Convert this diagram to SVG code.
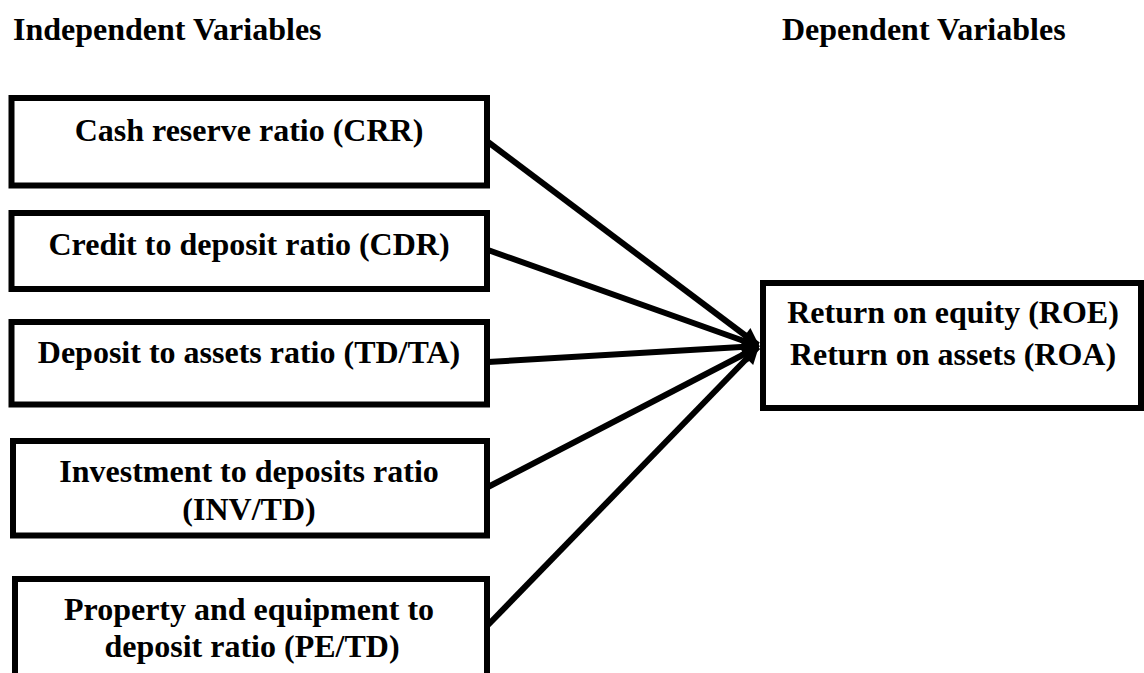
<svg xmlns="http://www.w3.org/2000/svg" width="1144" height="673" viewBox="0 0 1144 673">
<style>
.box{fill:#fff;stroke:#000;stroke-width:6}
text{font-weight:700;font-size:32px;fill:#000}
.c{text-anchor:middle}
.ln{stroke:#000;stroke-width:6;fill:none;marker-end:url(#ah)}
</style>
<defs>
<marker id="ah" viewBox="0 0 10 10" refX="9" refY="5" markerWidth="3.2" markerHeight="3" orient="auto" markerUnits="strokeWidth">
<path d="M0,0 L10,5 L0,10 z" fill="#000"/>
</marker>
</defs>
<rect width="1144" height="673" fill="#fff"/>
<g id="headers" font-family="Liberation Serif, DejaVu Serif, serif">
<text x="13" y="40">Independent Variables</text>
<text x="782" y="40">Dependent Variables</text>
</g>
<g id="connectors">
<line class="ln" x1="488" y1="142" x2="758" y2="345"/>
<line class="ln" x1="488" y1="250" x2="758" y2="346"/>
<line class="ln" x1="488" y1="362" x2="758" y2="346"/>
<line class="ln" x1="488" y1="487" x2="758" y2="347"/>
<line class="ln" x1="488" y1="625" x2="758" y2="347"/>
</g>
<g font-family="Liberation Serif, DejaVu Serif, serif">
<g id="crr">
<rect class="box" x="11.5" y="98" width="475.5" height="87.5"/>
<text class="c" x="249" y="141">Cash reserve ratio (CRR)</text>
</g>
<g id="cdr">
<rect class="box" x="11.5" y="213" width="475.5" height="76"/>
<text class="c" x="249" y="255">Credit to deposit ratio (CDR)</text>
</g>
<g id="tdta">
<rect class="box" x="11.5" y="322" width="475.5" height="82.5"/>
<text class="c" x="249" y="363">Deposit to assets ratio (TD/TA)</text>
</g>
<g id="invtd">
<rect class="box" x="13" y="441" width="474" height="94.5"/>
<text class="c" x="249" y="482">Investment to deposits ratio</text>
<text class="c" x="249" y="520">(INV/TD)</text>
</g>
<g id="petd">
<rect class="box" x="15" y="579" width="472" height="110"/>
<text class="c" x="249" y="620">Property and equipment to</text>
<text class="c" x="252" y="657">deposit ratio (PE/TD)</text>
</g>
<g id="roe-roa">
<rect class="box" x="763" y="283" width="378" height="125"/>
<text class="c" x="953" y="323">Return on equity (ROE)</text>
<text class="c" x="953" y="365">Return on assets (ROA)</text>
</g>
</g>
</svg>
